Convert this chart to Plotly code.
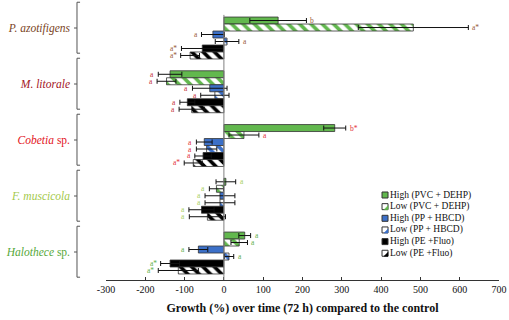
import plotly.graph_objects as go

# ---------------- data ----------------
categories = ["P. azotifigens", "M. litorale", "Cobetia sp.", "F. muscicola", "Halothece sp."]
category_labels = ["<i>P. azotifigens</i>", "<i>M. litorale</i>", "<i>Cobetia</i> sp.",
                   "<i>F. muscicola</i>", "<i>Halothece</i> sp."]
category_colors = ["#7A4424", "#A3141E", "#E3141C", "#A3C94A", "#56A83A"]
letter_colors = ["#9A5A3A", "#C4323A", "#E3323A", "#A8CF60", "#62B04A"]

series = ["High (PVC + DEHP)", "Low (PVC + DEHP)", "High (PP + HBCD)",
          "Low (PP + HBCD)", "High (PE +Fluo)", "Low (PE +Fluo)"]

high_pvc = [138, -137, 282, 5, 53]
low_pvc = [482, -146, 51, -19, 39]
high_pp = [-28, -36, -50, -10, -65]
low_pp = [8, -23, -44, -10, 13]
high_pe = [-55, -93, -53, -57, -137]
low_pe = [-86, -82, -78, -42, -116]

err_high_pvc = [72, 30, 28, 25, 15]
err_low_pvc = [140, 24, 38, 18, 21]
err_high_pp = [29, 44, 20, 38, 24]
err_low_pp = [30, 36, 26, 38, 12]
err_high_pe = [53, 19, 21, 32, 24]
err_low_pe = [24, 32, 23, 46, 51]

let_high_pvc = ["b", "a", "b*", "a", "a"]
let_low_pvc = ["a*", "a", "a", "a", "a"]
let_high_pp = ["a", "a", "a", "a", "a"]
let_low_pp = ["a", "a", "a", "a", "a"]
let_high_pe = ["a*", "a", "a", "a", "a*"]
let_low_pe = ["a*", "a", "a*", "a", "a*"]

x_ticks = [-300, -200, -100, 0, 100, 200, 300, 400, 500, 600, 700]
x_tick_text = ["-300", "-200", "-100", "0", "100", "200", "300", "400", "500", "600", "700"]

# ---------------- styles ----------------
GREEN = "#62B84E"
BLUE = "#3C70C8"
BLACK = "#000000"
FONT = "Liberation Serif"

values = [high_pvc, low_pvc, high_pp, low_pp, high_pe, low_pe]
errors = [err_high_pvc, err_low_pvc, err_high_pp, err_low_pp, err_high_pe, err_low_pe]
letters = [let_high_pvc, let_low_pvc, let_high_pp, let_low_pp, let_high_pe, let_low_pe]
colors = [GREEN, GREEN, BLUE, BLUE, BLACK, BLACK]
hatched = [False, True, False, True, False, True]

BW = 0.13  # bar thickness in category units
n_series = len(series)

fig = go.Figure()
annotations = []
for s in range(n_series):
    ypos = [i + (s - (n_series - 1) / 2) * BW for i in range(len(categories))]
    if hatched[s]:
        marker = dict(color="white", line=dict(color="#333333", width=0.8),
                      pattern=dict(shape="\\", fgcolor=colors[s], bgcolor="white",
                                   size=8, solidity=0.45))
    else:
        marker = dict(color=colors[s], line=dict(color="#333333", width=0.8))
    fig.add_trace(go.Bar(
        x=values[s], y=ypos, orientation="h", width=BW, name=series[s],
        marker=marker, showlegend=False,
        error_x=dict(type="data", array=errors[s], color="#111111",
                     thickness=1, width=2.5),
    ))
    for i in range(len(categories)):
        v = values[s][i]
        e = errors[s][i]
        right = v >= 0
        annotations.append(dict(
            x=v + e if right else v - e, y=ypos[i], xref="x", yref="y",
            text=letters[s][i], showarrow=False,
            xanchor="left" if right else "right", yanchor="middle",
            xshift=2 if right else -2,
            font=dict(family=FONT, size=7.5, color=letter_colors[i]),
        ))

# invisible trace to activate the y2 axis holding the category labels
fig.add_trace(go.Scatter(x=[0], y=[0], yaxis="y2", mode="markers",
                         marker=dict(opacity=0), showlegend=False, hoverinfo="skip"))

shapes = []
# zero line (category axis crossing)
shapes.append(dict(type="line", xref="x", yref="y", x0=0, x1=0, y0=4.502, y1=-0.43,
                   line=dict(color="#808080", width=1)))

# braces per category (left of plot area)
LX = -0.0738
HX = -0.066
TX = -0.0814
for i in range(len(categories)):
    top = i - 0.46
    bot = i + 0.45
    shapes.append(dict(type="path", xref="paper", yref="y2",
                       path=f"M {HX},{top} L {LX},{top} L {LX},{bot} L {HX},{bot}",
                       line=dict(color="#555555", width=1)))
    shapes.append(dict(type="line", xref="paper", yref="y2", x0=LX, x1=TX, y0=i, y1=i,
                       line=dict(color="#555555", width=1)))

# compact legend
LEG_X = 0.710
LEG_TOP = 195.0
LEG_STEP = 11.65
PLOT_H = 280.0
for s in range(n_series):
    yp = 1 - (LEG_TOP + s * LEG_STEP) / PLOT_H
    if hatched[s]:
        shapes.append(dict(type="rect", xref="paper", yref="paper",
                           xsizemode="pixel", ysizemode="pixel",
                           xanchor=LEG_X, yanchor=yp, x0=-3, x1=3, y0=-3, y1=3,
                           fillcolor="white", line=dict(color="#333333", width=1)))
        shapes.append(dict(type="path", xref="paper", yref="paper",
                           xsizemode="pixel", ysizemode="pixel",
                           xanchor=LEG_X, yanchor=yp,
                           path="M 3,-3 L 3,1 L -1,-3 Z",
                           fillcolor=colors[s], line=dict(color=colors[s], width=0.5)))
    else:
        shapes.append(dict(type="rect", xref="paper", yref="paper",
                           xsizemode="pixel", ysizemode="pixel",
                           xanchor=LEG_X, yanchor=yp, x0=-3, x1=3, y0=-3, y1=3,
                           fillcolor=colors[s], line=dict(color="#333333", width=1)))
    annotations.append(dict(x=LEG_X, y=yp, xref="paper", yref="paper",
                            text=series[s], showarrow=False, xanchor="left",
                            yanchor="middle", xshift=3,
                            font=dict(family=FONT, size=9.5, color="#111111")))

fig.update_layout(
    template="none",
    width=509, height=320,
    margin=dict(l=106, r=10, t=0, b=40, pad=0, autoexpand=False),
    paper_bgcolor="white", plot_bgcolor="white",
    barmode="overlay",
    font=dict(family=FONT, size=10, color="#111111"),
    xaxis=dict(range=[-300, 700], tickvals=x_ticks, ticktext=x_tick_text,
               ticks="inside", ticklen=3, automargin=False, ticklabeloverflow="allow",
               tickcolor="#333333", showline=True, linecolor="#333333", linewidth=1,
               showgrid=False, zeroline=False,
               tickfont=dict(family=FONT, size=10, color="#111111"),
               title=dict(text="<b>Growth (%) over time (72 h) compared to the control</b>",
                          font=dict(family=FONT, size=12, color="#111111"), standoff=9)),
    yaxis=dict(range=[4.502, -0.707], showticklabels=False, showgrid=False,
               zeroline=False, showline=False, ticks="", automargin=False),
    yaxis2=dict(range=[4.5, -0.5], overlaying="y", side="left", anchor="x",
                tickvals=list(range(len(categories))),
                ticktext=[f'<span style="color:{c}">{t}</span>'
                          for t, c in zip(category_labels, category_colors)],
                tickfont=dict(family=FONT, size=11.5), automargin=False,
                ticklabelstandoff=35, showgrid=False, zeroline=False,
                showline=False, ticks=""),
    shapes=shapes,
    annotations=annotations,
)

fig.write_html("out.html", config={"displayModeBar": False},
               post_script="document.body.style.margin='0';document.body.style.padding='0';")
